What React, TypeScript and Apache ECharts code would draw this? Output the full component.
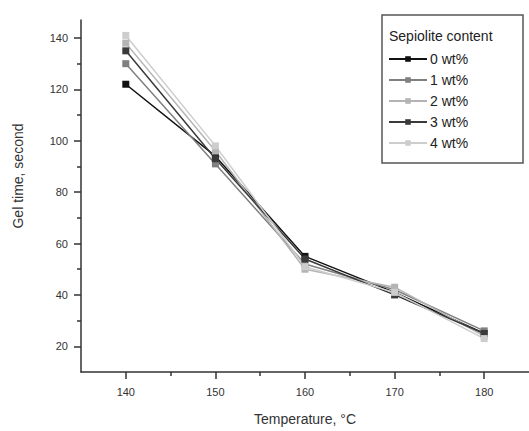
import React, { useEffect, useRef } from "react";
import * as echarts from "echarts";

const temperatures = [140, 150, 160, 170, 180];
const seriesNames = ["0 wt%", "1 wt%", "2 wt%", "3 wt%", "4 wt%"];
const wt0 = [122, 94, 55, 41, 25];
const wt1 = [130, 91, 52, 42, 26];
const wt2 = [138, 96, 50, 43, 24];
const wt3 = [135, 93, 54, 40, 25];
const wt4 = [141, 98, 51, 41, 23];
const xMajorTicks = [140, 150, 160, 170, 180];
const xMinorTicks = [145, 155, 165, 175];
const yMajorTicks = [20, 40, 60, 80, 100, 120, 140];
const yMinorTicks = [30, 50, 70, 90, 110, 130];

const colors = ["#111111", "#808080", "#b4b4b4", "#3a3a3a", "#cdcdcd"];
const FONT = "Liberation Sans, Arial, sans-serif";

export default function App() {
  const ref = useRef<HTMLDivElement>(null);
  useEffect(() => {
    if (!ref.current) return;
    const chart = echarts.init(ref.current, null, { renderer: "svg" });
    const allData = [wt0, wt1, wt2, wt3, wt4];
    const axisLine = { show: true, lineStyle: { color: "#333", width: 1.5 } };
    chart.setOption({
      animation: false,
      backgroundColor: "#fff",
      textStyle: { fontFamily: FONT },
      grid: { left: 81, top: 20, width: 448, height: 353, containLabel: false },
      xAxis: [
        {
          type: "value",
          min: 135,
          max: 185,
          axisLine,
          splitLine: { show: false },
          axisTick: { show: true, customValues: xMajorTicks, length: 7, lineStyle: { color: "#333", width: 1.5 } },
          axisLabel: { customValues: xMajorTicks, color: "#333", fontSize: 11, margin: 14, fontFamily: FONT },
          name: "Temperature, °C",
          nameLocation: "middle",
          nameGap: 40,
          nameTextStyle: { fontSize: 14, color: "#333", fontFamily: FONT },
        },
        {
          type: "value",
          min: 135,
          max: 185,
          position: "bottom",
          axisLine: { show: false },
          splitLine: { show: false },
          axisTick: { show: true, customValues: xMinorTicks, length: 4, lineStyle: { color: "#333", width: 1.5 } },
          axisLabel: { show: false },
        },
      ],
      yAxis: [
        {
          type: "value",
          min: 10,
          max: 147,
          axisLine,
          splitLine: { show: false },
          axisTick: { show: true, customValues: yMajorTicks, length: 7, lineStyle: { color: "#333", width: 1.5 } },
          axisLabel: { customValues: yMajorTicks, color: "#333", fontSize: 11, margin: 13, fontFamily: FONT },
        },
        {
          type: "value",
          min: 10,
          max: 147,
          position: "left",
          axisLine: { show: false },
          splitLine: { show: false },
          axisTick: { show: true, customValues: yMinorTicks, length: 4, lineStyle: { color: "#333", width: 1.5 } },
          axisLabel: { show: false },
        },
      ],
      legend: {
        orient: "vertical",
        left: 388,
        top: 52,
        itemWidth: 38,
        itemHeight: 7,
        itemGap: 7,
        padding: 0,
        data: seriesNames,
        textStyle: { fontSize: 14, color: "#222", fontFamily: FONT, padding: [0, 0, 0, -2] },
      },
      graphic: [
        {
          type: "rect",
          shape: { x: 382, y: 15, width: 141, height: 148 },
          style: { fill: "#fff", stroke: "#555", lineWidth: 1.5 },
          z: -1,
        },
        {
          type: "text",
          x: 389,
          y: 36,
          style: { text: "Sepiolite content", fontSize: 14, fill: "#222", fontFamily: FONT, textVerticalAlign: "middle" },
        },
        {
          type: "text",
          x: 18,
          y: 176,
          rotation: Math.PI / 2,
          style: {
            text: "Gel time, second",
            fontSize: 14,
            fill: "#333",
            fontFamily: FONT,
            textAlign: "center",
            textVerticalAlign: "middle",
          },
        },
      ],
      series: seriesNames.map((name, i) => ({
        name,
        type: "line",
        xAxisIndex: 0,
        yAxisIndex: 0,
        data: temperatures.map((t, j) => [t, allData[i][j]]),
        symbol: "rect",
        symbolSize: 7,
        itemStyle: { color: colors[i] },
        lineStyle: { color: colors[i], width: 1.5 },
      })),
    });
    return () => chart.dispose();
  }, []);
  return <div ref={ref} style={{ position: "fixed", left: 0, top: 0, width: 529, height: 431 }} />;
}
